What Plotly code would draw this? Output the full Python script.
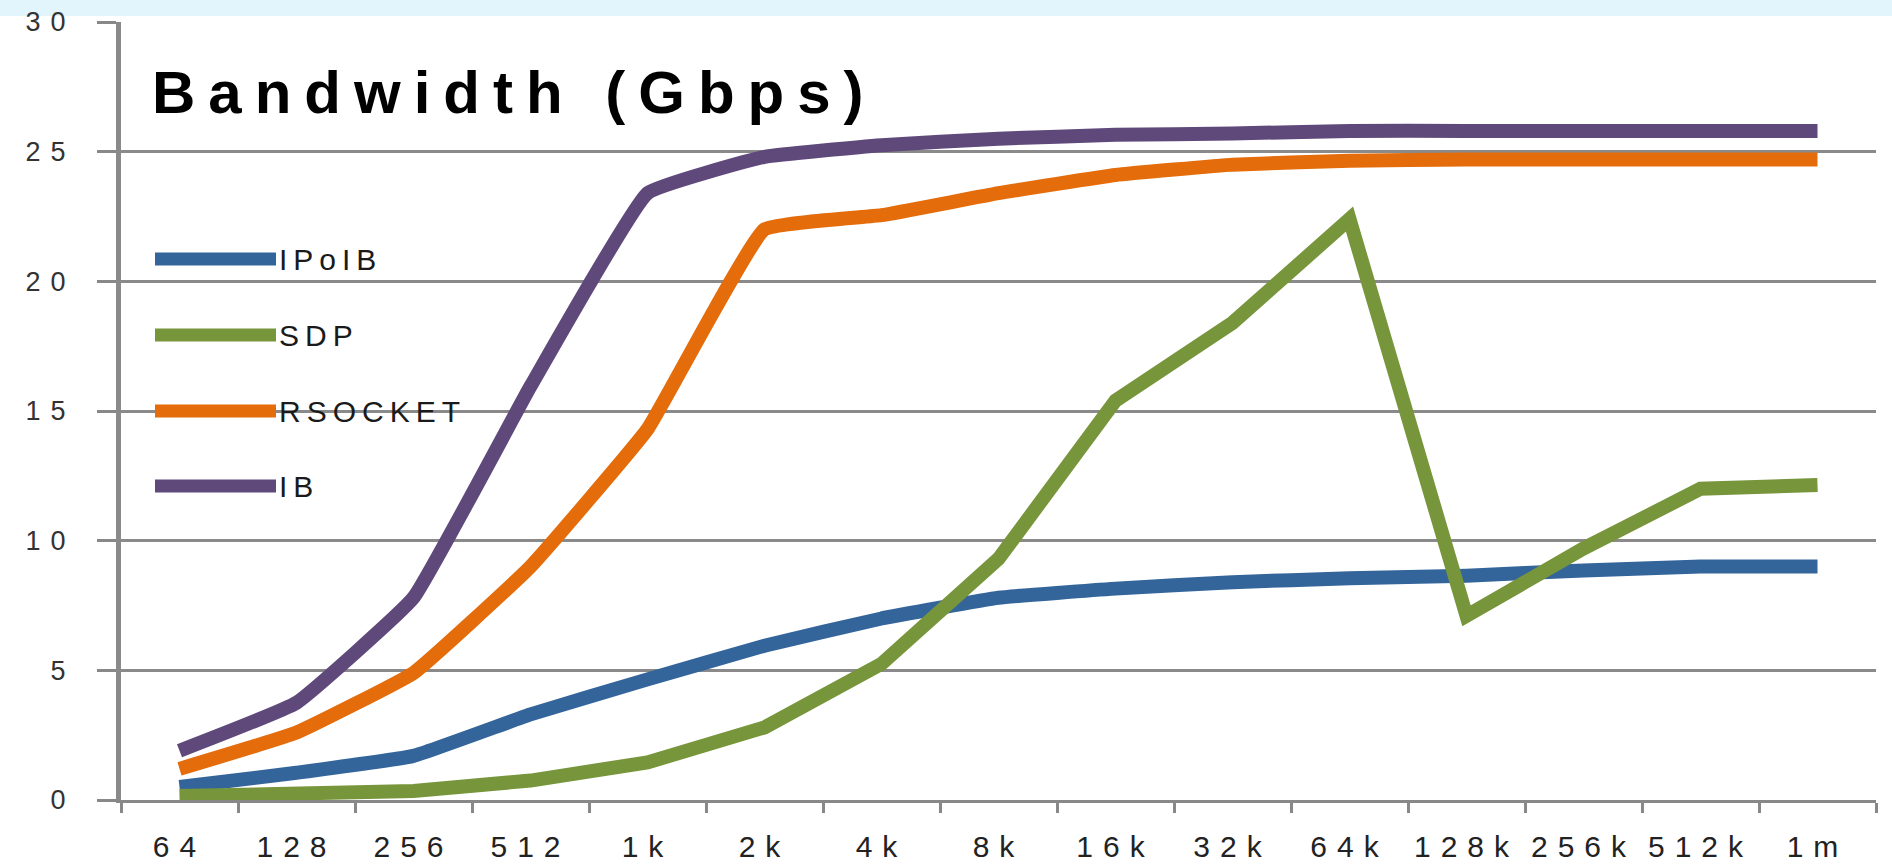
import plotly.graph_objects as go

categories = ["64", "128", "256", "512", "1k", "2k", "4k", "8k", "16k", "32k", "64k", "128k", "256k", "512k", "1m"]
ipoib = [0.5, 1.05, 1.7, 3.3, 4.65, 5.95, 7.0, 7.8, 8.15, 8.4, 8.55, 8.65, 8.85, 9.0, 9.0]
sdp = [0.15, 0.2, 0.35, 0.75, 1.45, 2.8, 5.25, 9.3, 15.4, 18.4, 22.4, 7.1, 9.7, 12.0, 12.15]
rsocket = [1.2, 2.6, 4.9, 9.0, 14.3, 22.0, 22.55, 23.4, 24.1, 24.5, 24.65, 24.7, 24.7, 24.7, 24.7]
ib = [1.9, 3.75, 7.8, 15.95, 23.4, 24.8, 25.25, 25.5, 25.65, 25.7, 25.8, 25.8, 25.8, 25.8, 25.8]
series_names = ["IPoIB", "SDP", "RSOCKET", "IB"]
series_colors = ["#33659b", "#77953a", "#e46c0a", "#5f497a"]
series_shapes = ["spline", "linear", "spline", "spline"]
y_ticks = [0, 5, 10, 15, 20, 25, 30]
title_text = "Bandwidth (Gbps)"

# figure geometry (pixels) used to place the in-plot legend
W, H = 1892, 865
ML, MR, MT, MB = 121, 16, 22, 65
PW, PH = W - ML - MR, H - MT - MB


def px_x(px):
    return (px - ML) / PW


def px_y(py):
    return (H - MB - py) / PH


def spaced(s, px):
    return f'<span style="letter-spacing:{px}px">{s}</span>'


fig = go.Figure()
for name, vals, col, shp in zip(series_names, [ipoib, sdp, rsocket, ib], series_colors, series_shapes):
    fig.add_trace(go.Scatter(
        x=categories, y=vals, mode="lines", name=name,
        line=dict(color=col, width=14, shape=shp, smoothing=0.3),
    ))

legend_y = [259, 335, 411, 486]
shapes = [dict(
    type="rect", xref="paper", yref="paper", x0=-0.07, x1=1.01, y0=px_y(16), y1=px_y(0),
    fillcolor="#e2f4fc", line=dict(width=0), layer="below",
)]
annotations = [dict(
    text="<b>" + spaced(title_text, 13) + "</b>",
    xref="paper", yref="paper", x=px_x(150), y=px_y(92), xanchor="left", yanchor="middle",
    showarrow=False, font=dict(size=60, color="#000000", family="Liberation Sans, Arial"),
)]
for name, col, ly in zip(series_names, series_colors, legend_y):
    shapes.append(dict(
        type="line", xref="paper", yref="paper", x0=px_x(155), x1=px_x(276), y0=px_y(ly), y1=px_y(ly),
        line=dict(color=col, width=13),
    ))
    annotations.append(dict(
        text=spaced(name, 6), xref="paper", yref="paper", x=px_x(277), y=px_y(ly),
        xanchor="left", yanchor="middle", showarrow=False,
        font=dict(size=30, color="#1a1a1a", family="Liberation Sans, Arial"),
    ))

fig.update_layout(
    width=W, height=H,
    margin=dict(l=ML, r=MR, t=MT, b=MB, autoexpand=False),
    paper_bgcolor="white", plot_bgcolor="white",
    font=dict(family="Liberation Sans, Arial, sans-serif", color="#222222"),
    showlegend=False,
    xaxis=dict(
        type="category", range=[-0.5, 14.5],
        tickmode="array", tickvals=categories,
        ticktext=[spaced(c, 10) for c in categories],
        tickson="boundaries", ticks="outside", ticklen=10, tickwidth=3, tickcolor="#888888",
        showgrid=False, showline=True, linecolor="#888888", linewidth=3,
        tickfont=dict(size=30, color="#222222", family="Liberation Sans, Arial"),
        tickangle=0, automargin=False,
        ticklabelstandoff=18,
        fixedrange=True,
    ),
    yaxis=dict(
        range=[0, 30], tickmode="array", tickvals=y_ticks,
        ticktext=[spaced(str(v), 10) for v in y_ticks],
        ticks="outside", ticklen=19, tickwidth=2.5, tickcolor="#888888",
        showgrid=True, gridcolor="#8a8a8a", gridwidth=2.5,
        showline=True, linecolor="#8a8a8a", linewidth=5,
        zeroline=False, ticklabelstandoff=16, automargin=False,
        tickfont=dict(size=27, color="#333333", family="Liberation Sans, Arial"),
        fixedrange=True,
    ),
    annotations=annotations,
    shapes=shapes,
)

fig.write_html("out.html")
